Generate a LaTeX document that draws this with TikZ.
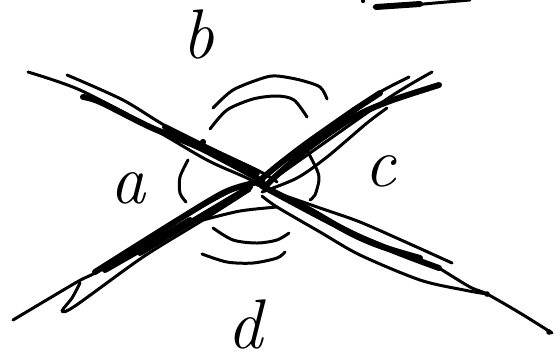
\documentclass[tikz,border=0pt]{standalone}
\tikzset{
    inkline/.style={line width=1.7pt, line cap=round, line join=round, black},
    inkheavy/.style={line width=3.4pt, line cap=round, line join=round, black},
    letter/.style={font=\fontsize{40}{40}\selectfont\itshape, inner sep=0pt},
}
\begin{document}
\begin{tikzpicture}[x=0.02cm, y=-0.02cm]
    \useasboundingbox (0, 0) rectangle (557, 360);

    % 右上角的残笔
    \draw[inkline] plot[smooth] coordinates {(374, 7) (400, 6) (435, 3) (470, 0)};
    \draw[inkheavy] (376, 7) -- (420, 4);
    \fill (363, 1) circle (1.2pt);

    % 左上到右下
    \draw[inkline] plot[smooth] coordinates {(28, 72) (80, 90) (150, 127) (207, 160) (247, 178) (277, 193)};
    \draw[inkline] plot[smooth] coordinates {(67, 75) (123, 100) (173, 130) (257, 170) (277, 182)};
    \draw[inkheavy] plot[smooth] coordinates {(83, 97) (100, 102) (150, 127) (200, 148) (257, 178)};
    \draw[inkheavy] (165, 127) -- (257, 173);
    \draw[inkline] plot[smooth] coordinates {(277, 193) (320, 208) (360, 222) (410, 244) (452, 263)};
    \draw[inkheavy] plot[smooth] coordinates {(262, 186) (320, 217) (360, 237) (404, 255) (439, 268)};
    \draw[inkheavy] plot[smooth] coordinates {(270, 190) (310, 210) (350, 233) (380, 246) (420, 258)};
    \draw[inkline] plot[smooth] coordinates {(439, 268) (470, 287) (487, 294) (520, 313) (552, 333)};
    \draw[inkline] plot[smooth] coordinates {(262, 196) (277, 207) (320, 232) (360, 255) (420, 280) (464, 290) (487, 294)};
    \fill (487, 294) circle (1.6pt);
    \fill (549, 332) circle (1.6pt);
    \fill (203, 142) circle (1.8pt);

    % 左下到右上
    \draw[inkline] plot[smooth] coordinates {(13, 320) (77, 282) (100, 270) (173, 223) (233, 190) (260, 181)};
    \draw[inkheavy] plot[smooth] coordinates {(95, 272) (173, 223) (225, 192) (258, 182)};
    \draw[inkheavy] (105, 270) -- (180, 227);
    \draw[inkheavy] (125, 258) -- (190, 220);
    \draw[inkline] plot[smooth] coordinates {(80, 283) (72, 298) (62, 311) (75, 306) (143, 257) (203, 220) (250, 190)};
    \draw[inkheavy] plot[smooth] coordinates {(140, 253) (203, 215) (250, 187)};
    \draw[inkline] plot[smooth] coordinates {(203, 220) (240, 211) (277, 207)};
    \draw[inkheavy] plot[smooth] coordinates {(258, 182) (277, 166) (307, 143) (354, 110)};
    \draw[inkheavy] (354, 110) -- (380, 93);
    \draw[inkline] plot[smooth] coordinates {(354, 110) (380, 92) (409, 77)};
    \draw[inkline] plot[smooth] coordinates {(262, 187) (310, 153) (390, 97) (432, 72)};
    \draw[inkheavy] plot[smooth] coordinates {(265, 187) (277, 175) (310, 147) (354, 117) (390, 101) (439, 85)};
    \draw[inkline] plot[smooth] coordinates {(262, 192) (297, 178) (327, 157) (367, 123) (387, 108)};

    % 中心
    \fill (260, 182) circle (3.2pt);

    % 四段弧线
    \draw[inkline] plot[smooth] coordinates {(213, 108) (233, 90) (263, 78) (277, 76) (300, 80) (320, 87) (327, 99)};
    \draw[inkline] plot[smooth] coordinates {(210, 129) (227, 110) (253, 99) (277, 96) (294, 100) (307, 117)};
    \draw[inkline] plot[smooth] coordinates {(188, 160) (180, 177) (180, 193) (186, 202)};
    \draw[inkline] plot[smooth] coordinates {(307, 150) (317, 170) (319, 180) (315, 195) (310, 200)};
    \draw[inkline] plot[smooth] coordinates {(213, 228) (233, 240) (257, 243) (277, 240) (289, 233)};
    \draw[inkline] plot[smooth] coordinates {(202, 254) (227, 262) (253, 263) (277, 258) (285, 252)};

    % 字母
    \node[letter] (labela) at (128, 188) {a};
    \node[letter] (labelb) at (198, 34) {b};
    \node[letter] (labelc) at (380, 171) {c};
    \node[letter] (labeld) at (245, 324) {d};
\end{tikzpicture}
\end{document}
